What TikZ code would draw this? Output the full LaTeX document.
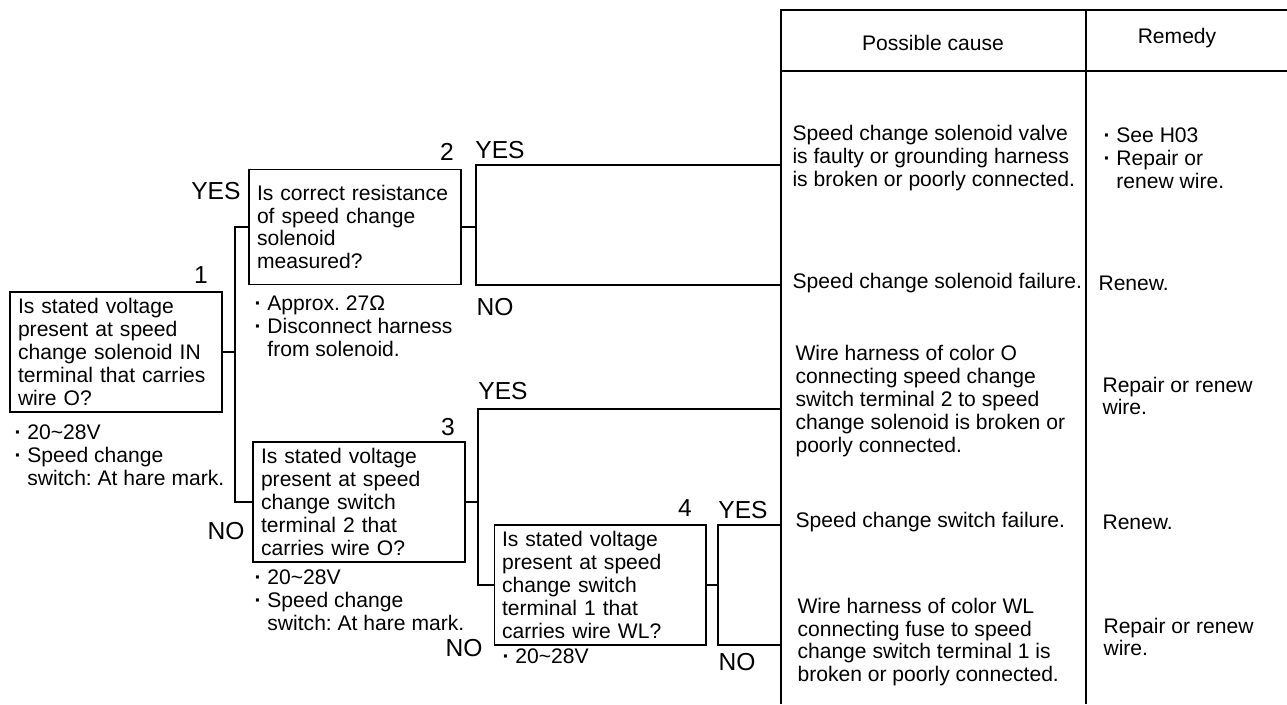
\documentclass[tikz,border=0pt]{standalone}
\usepackage{fontspec}
\setmainfont{Liberation Sans}
\frenchspacing
\newcommand\dotitem{{\bfseries\textperiodcentered}\ }

\begin{document}
\begin{tikzpicture}[x=.02cm,y=-.02cm,line width=.6pt,
  every node/.style={font=\fontsize{12}{13}\selectfont},
  qbox/.style={draw,align=left,text width=3.92cm,inner xsep=.16cm,inner ysep=0pt,minimum height=2.4cm},
  txt/.style={align=left,anchor=west,inner sep=0pt},
  lbl/.style={inner sep=0pt,font=\fontsize{14}{15}\selectfont}]
\useasboundingbox (0,0) rectangle (1287,704);
% table
\draw (781,704)--(781,10)--(1287,10);
\draw (1086,10)--(1086,704);
\draw (781,71)--(1287,71);
\node (hcause) at (933,43) {Possible cause};
\node (hremedy) at (1177,38) {Remedy};
\node[txt] (cause1t) at (792,158) {Speed change solenoid valve\\is faulty or grounding harness\\is broken or poorly connected.};
\node[txt] (rem1) at (1103,158) {\dotitem See H03\\\dotitem Repair or\\\phantom{\dotitem}renew wire.};
\node[txt] (cause2t) at (792,283) {Speed change solenoid failure.};
\node[txt] (rem2) at (1098,283) {Renew.};
\node[txt] (cause3t) at (795,401) {Wire harness of color O\\connecting speed change\\switch terminal 2 to speed\\change solenoid is broken or\\poorly connected.};
\node[txt] (rem3) at (1102,396) {Repair or renew\\wire.};
\node[txt] (cause4t) at (795,522) {Speed change switch failure.};
\node[txt] (rem4) at (1102,522) {Renew.};
\node[txt] (cause5t) at (797,642) {Wire harness of color WL\\connecting fuse to speed\\change switch terminal 1 is\\broken or poorly connected.};
\node[txt] (rem5) at (1103,637) {Repair or renew\\wire.};
% checks
\node[qbox] (q1) at (116,352) {Is stated voltage\\present at speed\\change solenoid IN\\terminal that carries\\wire O?};
\node[qbox,minimum height=2.3cm] (q2) at (355,227) {Is correct resistance\\of speed change\\solenoid\\measured?};
\node[qbox] (q3) at (359,502) {Is stated voltage\\present at speed\\change switch\\terminal 2 that\\carries wire O?};
\node[qbox] (q4) at (600,585) {Is stated voltage\\present at speed\\change switch\\terminal 1 that\\carries wire WL?};
\node[txt] (note1) at (14,455) {\dotitem 20\textasciitilde28V\\\dotitem Speed change\\\phantom{\dotitem}switch: At hare mark.};
\node[txt] (note2) at (254,326) {\dotitem Approx. 27Ω\\\dotitem Disconnect harness\\\phantom{\dotitem}from solenoid.};
\node[txt] (note3) at (254,600) {\dotitem 20\textasciitilde28V\\\dotitem Speed change\\\phantom{\dotitem}switch: At hare mark.};
\node[txt] (note4) at (502,656) {\dotitem 20\textasciitilde28V};
\node[lbl] (n1) at (201,275) {1};
\node[lbl] (n2) at (447,152) {2};
\node[lbl] (n3) at (448,427) {3};
\node[lbl] (n4) at (685,508) {4};
\node[lbl,anchor=east] (yes2l) at (241,191) {YES};
\node[lbl] (yes2r) at (500,150) {YES};
\node[lbl] (no2r) at (495,307) {NO};
\node[lbl,anchor=east] (no3l) at (245,531) {NO};
\node[lbl] (yes3r) at (503,391) {YES};
\node[lbl] (yes4r) at (743,510) {YES};
\node[lbl,anchor=east] (no4l) at (483,648) {NO};
\node[lbl] (no4r) at (737,662) {NO};
% connectors
\coordinate (split1) at (235,0);
\coordinate (yes2) at (476,165);
\coordinate (no2) at (476,285);
\coordinate (yes3) at (478,409);
\coordinate (yes4) at (718,525);
\coordinate (no4) at (718,645);
\coordinate (row1) at (781,165);
\coordinate (row2) at (781,285);
\coordinate (row3) at (781,409);
\coordinate (row4) at (781,525);
\coordinate (row5) at (781,645);
\draw (q1.east) -- (q1.east -| split1);
\draw (q2.west) -- (q2.west -| split1) -- (q3.west -| split1) -- (q3.west);
\draw (q2.east) -- (q2.east -| yes2);
\draw (row1) -- (yes2) -- (no2) -- (row2);
\draw (q3.east) -- (q3.east -| yes3);
\draw (row3) -- (yes3) -- (yes3 |- q4.west) -- (q4.west);
\draw (q4.east) -- (q4.east -| yes4);
\draw (row4) -- (yes4) -- (no4) -- (row5);
\end{tikzpicture}
\end{document}
